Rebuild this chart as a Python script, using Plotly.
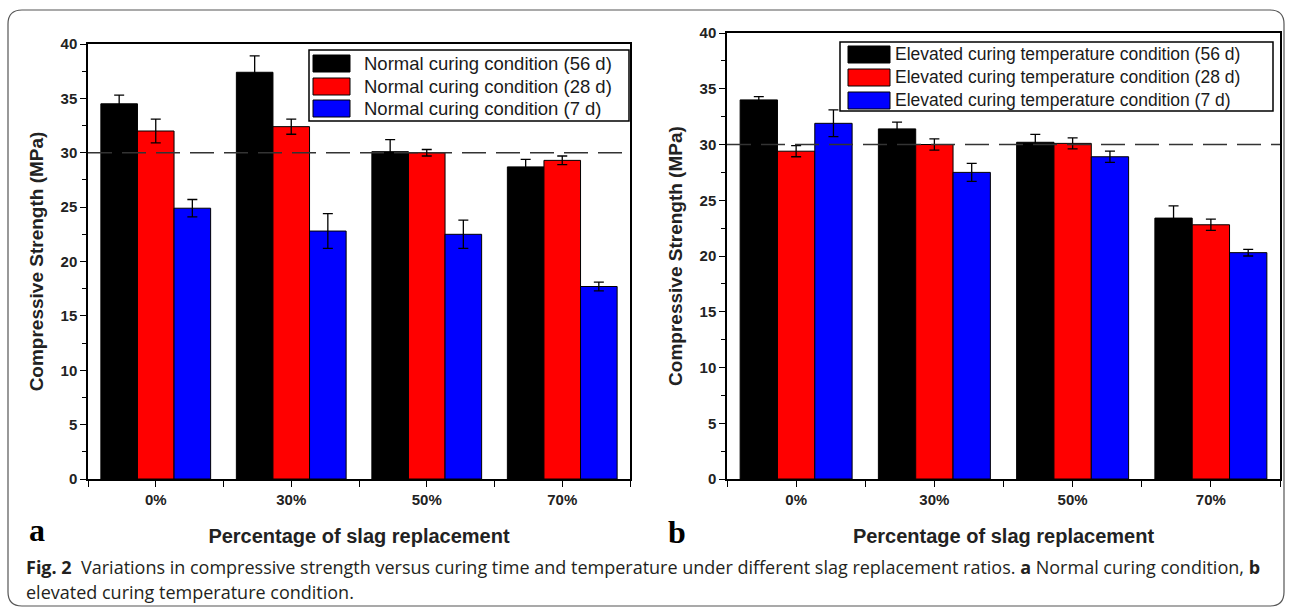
import plotly.graph_objects as go

W, H = 1293, 616

categories = ["0%", "30%", "50%", "70%"]
ages = ["56 d", "28 d", "7 d"]
colors = ["#000000", "#ff0000", "#0000ff"]

# Normal curing condition (MPa) and standard deviations
normal_56 = [34.5, 37.4, 30.1, 28.7]
normal_28 = [32.0, 32.4, 30.0, 29.3]
normal_7 = [24.9, 22.8, 22.5, 17.7]
normal_56_err = [0.8, 1.5, 1.1, 0.7]
normal_28_err = [1.1, 0.7, 0.3, 0.4]
normal_7_err = [0.8, 1.6, 1.3, 0.4]

# Elevated curing temperature condition (MPa) and standard deviations
elev_56 = [34.0, 31.4, 30.2, 23.4]
elev_28 = [29.4, 30.0, 30.1, 22.8]
elev_7 = [31.9, 27.5, 28.9, 20.3]
elev_56_err = [0.3, 0.6, 0.7, 1.1]
elev_28_err = [0.5, 0.5, 0.5, 0.5]
elev_7_err = [1.2, 0.8, 0.5, 0.3]

target_strength = 30
y_ticks = [0, 5, 10, 15, 20, 25, 30, 35, 40]


def px(x):
    return x / W


def py(y):
    return 1 - y / H


fig = go.Figure()

panels = [
    dict(xa="x", ya="y", label="Normal curing condition",
         vals=[normal_56, normal_28, normal_7],
         errs=[normal_56_err, normal_28_err, normal_7_err]),
    dict(xa="x2", ya="y2", label="Elevated curing temperature condition",
         vals=[elev_56, elev_28, elev_7],
         errs=[elev_56_err, elev_28_err, elev_7_err]),
]

for p in panels:
    for age, col, v, e in zip(ages, colors, p["vals"], p["errs"]):
        fig.add_trace(go.Bar(
            x=list(range(len(categories))), y=v,
            name=f"{p['label']} ({age})",
            marker=dict(color=col, line=dict(color="black", width=1)),
            error_y=dict(type="data", array=e, color="black",
                         thickness=1.3, width=5),
            xaxis=p["xa"], yaxis=p["ya"], showlegend=False,
        ))

tick_font = dict(family="Liberation Sans, Arial", size=15, color="#222222")
xtitle_font = dict(family="Liberation Sans, Arial", size=20, color="#222222")
ytitle_font = dict(family="Liberation Sans, Arial", size=19, color="#222222")


def xaxis_cfg(domain):
    return dict(
        domain=domain, range=[-0.5, 3.5], automargin=False,
        tickvals=list(range(len(categories))),
        ticktext=[f"<b>{c}</b>" for c in categories],
        ticks="outside", ticklen=6, tickwidth=1.3, tickcolor="black",
        minor=dict(tickvals=[-0.5, 0.5, 1.5, 2.5, 3.5], ticks="outside",
                   ticklen=6, tickwidth=1.3, tickcolor="black"),
        showline=True, linecolor="black", linewidth=1.5, mirror=True,
        showgrid=False, zeroline=False, tickfont=tick_font,
        title=dict(text="<b>Percentage of slag replacement</b>",
                   font=xtitle_font, standoff=22),
    )


def yaxis_cfg(domain):
    return dict(
        domain=domain, range=[0, 40], automargin=False,
        tickvals=y_ticks, ticktext=[f"<b>{t}</b>" for t in y_ticks],
        ticks="outside", ticklen=6, tickwidth=1.3, tickcolor="black",
        minor=dict(dtick=2.5, tick0=0, ticks="outside", ticklen=4,
                   tickwidth=1.2, tickcolor="black"),
        showline=True, linecolor="black", linewidth=1.5, mirror=True,
        showgrid=False, zeroline=False, tickfont=tick_font,
        title=dict(text="<b>Compressive Strength (MPa)</b>",
                   font=ytitle_font, standoff=12),
    )


fig.update_layout(
    width=W, height=H, autosize=False,
    margin=dict(l=0, r=0, t=0, b=0, pad=0, autoexpand=False),
    paper_bgcolor="white", plot_bgcolor="white",
    barmode="group", bargap=0.19, bargroupgap=0,
    xaxis=xaxis_cfg([px(88), px(630)]),
    yaxis=yaxis_cfg([py(479), py(44)]),
    xaxis2=dict(**xaxis_cfg([px(727), px(1280)]), anchor="y2"),
    yaxis2=dict(**yaxis_cfg([py(479), py(33)]), anchor="x2"),
)
fig.layout.xaxis.anchor = "y"
fig.layout.yaxis.anchor = "x"

shapes = []
annotations = []

# 30 MPa reference line in each panel
for xr, yr in [("x domain", "y"), ("x2 domain", "y2")]:
    shapes.append(dict(type="line", xref=xr, yref=yr, x0=0, x1=1,
                       y0=target_strength, y1=target_strength,
                       line=dict(color="#333333", width=1.6, dash="24px,10px"),
                       layer="above"))

# Legend boxes drawn in pixel space
legends = [
    dict(box=(309, 50, 629, 121), rows=[63, 86, 108], sw=(313, 350),
         tx=362, size=18.5, label="Normal curing condition"),
    dict(box=(840, 42, 1273, 111), rows=[54, 77, 100], sw=(848, 890),
         tx=893, size=17.5, label="Elevated curing temperature condition"),
]
for lg in legends:
    x0, y0, x1, y1 = lg["box"]
    shapes.append(dict(type="rect", xref="paper", yref="paper",
                       x0=px(x0), x1=px(x1), y0=py(y0), y1=py(y1),
                       line=dict(color="black", width=1.5),
                       fillcolor="white", layer="above"))
    for row, col, age in zip(lg["rows"], colors, ages):
        shapes.append(dict(type="rect", xref="paper", yref="paper",
                           x0=px(lg["sw"][0]), x1=px(lg["sw"][1]),
                           y0=py(row - 8), y1=py(row + 9),
                           fillcolor=col, line=dict(color="black", width=1),
                           layer="above"))
        annotations.append(dict(
            xref="paper", yref="paper", x=px(lg["tx"]), y=py(row),
            xanchor="left", yanchor="middle", showarrow=False,
            text=f"{lg['label']} ({age})",
            font=dict(family="Liberation Sans, Arial", size=lg["size"],
                      color="#1a1a1a"),
        ))

# Panel letters
for letter, x, y in [("a", 37, 530), ("b", 677, 532)]:
    annotations.append(dict(
        xref="paper", yref="paper", x=px(x), y=py(y), xanchor="center",
        yanchor="middle", showarrow=False, text=f"<b>{letter}</b>",
        font=dict(family="Liberation Serif, Times New Roman", size=32,
                  color="black"),
    ))

# Figure caption
caption_font = dict(family="Open Sans, Noto Sans", size=18, color="#231f20")
annotations.append(dict(
    xref="paper", yref="paper", x=px(24), y=py(567), xanchor="left",
    yanchor="middle", showarrow=False, font=caption_font,
    text=("<b>Fig. 2</b>  Variations in compressive strength versus curing time "
          "and temperature under different slag replacement ratios. "
          "<b>a</b> Normal curing condition, <b>b</b>"),
))
annotations.append(dict(
    xref="paper", yref="paper", x=px(24), y=py(592), xanchor="left",
    yanchor="middle", showarrow=False, font=caption_font,
    text="elevated curing temperature condition.",
))

# Rounded outer frame
r = 14
fx0, fy0, fx1, fy1 = 8, 10, 1284, 606
path = (f"M {px(fx0 + r)} {py(fy0)} L {px(fx1 - r)} {py(fy0)} "
        f"Q {px(fx1)} {py(fy0)} {px(fx1)} {py(fy0 + r)} "
        f"L {px(fx1)} {py(fy1 - r)} Q {px(fx1)} {py(fy1)} {px(fx1 - r)} {py(fy1)} "
        f"L {px(fx0 + r)} {py(fy1)} Q {px(fx0)} {py(fy1)} {px(fx0)} {py(fy1 - r)} "
        f"L {px(fx0)} {py(fy0 + r)} Q {px(fx0)} {py(fy0)} {px(fx0 + r)} {py(fy0)} Z")
shapes.append(dict(type="path", xref="paper", yref="paper", path=path,
                   line=dict(color="#555555", width=1.2), layer="below"))

fig.update_layout(shapes=shapes, annotations=annotations)

fig.write_html("out.html")
